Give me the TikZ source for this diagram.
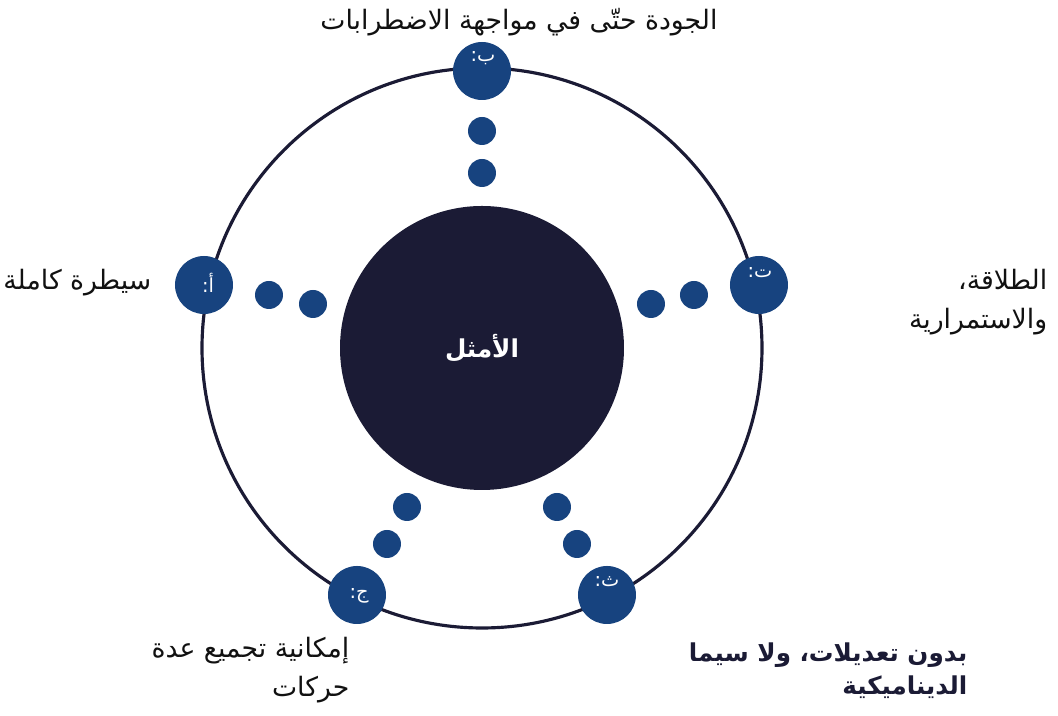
\documentclass[tikz,border=0pt]{standalone}
\usepackage{fontspec}
\newfontfamily\arabicfont[Script=Arabic]{DejaVu Sans}
\TeXXeTstate=1
\usetikzlibrary{positioning}
\definecolor{hubnavy}{HTML}{1B1B35}
\definecolor{satblue}{HTML}{17437F}
\definecolor{inkblack}{HTML}{111111}
\tikzset{
  hub/.style     = {circle, fill=hubnavy, minimum size=2.84cm, inner sep=0pt,
                    text=white, font=\arabicfont\bfseries\fontsize{7}{9}\selectfont},
  sat/.style     = {circle, fill=satblue, minimum size=0.58cm, inner sep=0pt},
  bead/.style    = {circle, fill=satblue, minimum size=0.28cm, inner sep=0pt},
  satlbl/.style  = {text=white, inner sep=0pt, font=\arabicfont\fontsize{5.5}{6}\selectfont},
  caption/.style = {text=inkblack, align=right, inner sep=0pt,
                    font=\arabicfont\fontsize{7.6}{11}\selectfont},
  strong/.style  = {caption, text=hubnavy, font=\arabicfont\bfseries\fontsize{7}{9.5}\selectfont},
  ring/.style    = {draw=hubnavy, line width=0.9pt},
}
\begin{document}
\begin{tikzpicture}
    \useasboundingbox (0,0) rectangle (10.58,7.16);
    % outer ring and centre
    \draw[ring] (4.82,3.68) circle (2.80);
    \node[hub] (opt) at (4.82,3.68) {\beginR الأمثل\endR};
    % satellites
    \node[sat] (a) at (2.04,4.31) {};
    \node[sat] (b) at (4.82,6.45) {};
    \node[sat] (t) at (7.59,4.31) {};
    \node[sat] (j) at (3.57,1.21) {};
    \node[sat] (th) at (6.07,1.21) {};
    \node[satlbl] (al) at (2.08,4.33) {\beginR أ:\endR};
    \node[satlbl] (bl) at (4.83,6.58) {\beginR ب:\endR};
    \node[satlbl] (tl) at (7.60,4.43) {\beginR ت:\endR};
    \node[satlbl] (jl) at (3.59,1.20) {\beginR ج:\endR};
    \node[satlbl] (thl) at (6.07,1.34) {\beginR ث:\endR};
    % beads towards the centre
    \node[bead] (a1) at (2.69,4.21) {};
    \node[bead] (a2) at (3.13,4.12) {};
    \node[bead] (b1) at (4.82,5.85) {};
    \node[bead] (b2) at (4.82,5.43) {};
    \node[bead] (t1) at (6.94,4.21) {};
    \node[bead] (t2) at (6.51,4.12) {};
    \node[bead] (j1) at (3.87,1.72) {};
    \node[bead] (j2) at (4.07,2.09) {};
    \node[bead] (th1) at (5.77,1.72) {};
    \node[bead] (th2) at (5.57,2.09) {};
    % captions
    \node[caption] (bc) at (5.19,6.94) {\beginR الجودة حتّى في مواجهة الاضطرابات\endR};
    \node[caption,anchor=east] (ac) at (1.52,4.33) {\beginR سيطرة كاملة\endR};
    \node[caption,anchor=north east] (tc) at (10.48,4.47) {\beginR الطلاقة،\endR\\\beginR والاستمرارية\endR};
    \node[caption,anchor=north east] (jc) at (3.50,0.79) {\beginR إمكانية تجميع عدة\endR\\\beginR حركات\endR};
    \node[strong,anchor=north east] (thc) at (9.68,0.74) {\beginR بدون تعديلات، ولا سيما\endR\\\beginR الديناميكية\endR};
\end{tikzpicture}
\end{document}
